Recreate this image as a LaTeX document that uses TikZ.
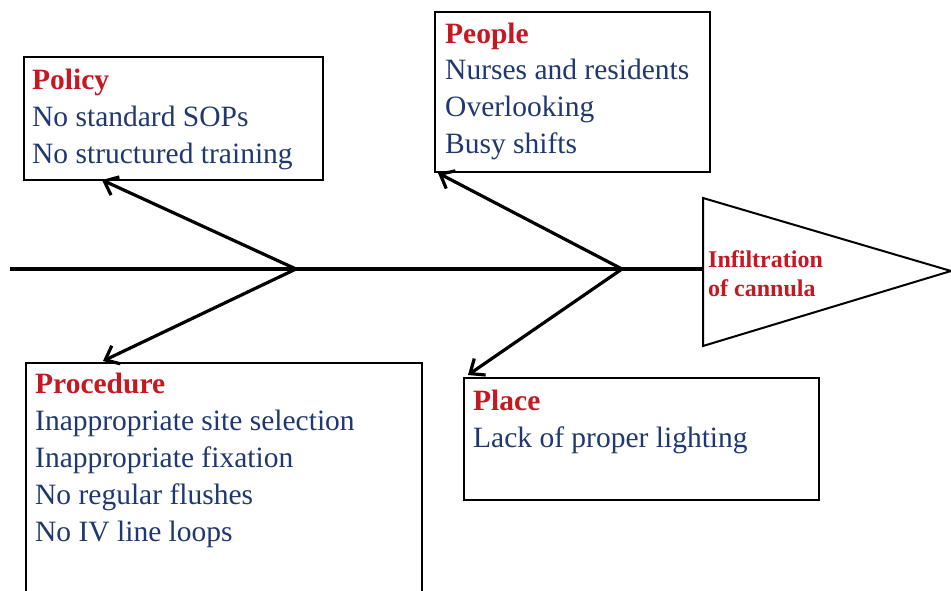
\documentclass[tikz,border=0pt]{standalone}
\usepackage{fontspec}
\setmainfont{Liberation Serif}
\usetikzlibrary{arrows.meta}
\definecolor{hred}{RGB}{196,24,34}
\definecolor{navy}{RGB}{31,56,112}
\tikzset{
  box/.style={draw=black, line width=2.2pt, anchor=north west, inner sep=0pt},
  txt/.style={anchor=base west, inner sep=0pt, align=left, text=navy,
    font=\fontsize{29.5}{37}\selectfont},
  bone/.style={line width=3.2pt, -{Straight Barb[length=12pt,width=20pt,line width=3.2pt]}}
}
\newcommand{\hdr}[1]{\textcolor{hred}{\textbf{#1}}}
\begin{document}
\begin{tikzpicture}[x=1pt,y=-1pt]
\clip (0,0) rectangle (951,591);
\fill[white] (0,0) rectangle (951,591);
% boxes
\node[box, minimum width=299pt, minimum height=123pt] (policy) at (23,56) {};
\node[box, minimum width=275pt, minimum height=160pt] (people) at (434,11) {};
\node[box, minimum width=396pt, minimum height=250pt] (proc) at (25,362) {};
\node[box, minimum width=355pt, minimum height=122pt] (place) at (463,377) {};
% texts (anchor = baseline of last line)
\node[txt] (policyt) at (32,164) {\hdr{Policy}\\No standard SOPs\\No structured training};
\node[txt] (peoplet) at (445,154) {\hdr{People}\\Nurses and residents\\Overlooking\\Busy shifts};
\node[txt] (proct) at (35,541) {\hdr{Procedure}\\Inappropriate site selection\\Inappropriate fixation\\No regular flushes\\No IV line loops};
\node[txt] (placet) at (473,447) {\hdr{Place}\\Lack of proper lighting};
% head triangle
\coordinate (h1) at (703,198);
\coordinate (h2) at (703,346);
\coordinate (h3) at (951,271);
\draw[line width=2pt, line join=miter] (h1) -- (h3) -- (h2) -- cycle;
\node[anchor=base west, inner sep=0pt, align=left, text=hred,
  font=\fontsize{24}{29}\selectfont\bfseries] (effect) at (708,296) {Infiltration\\of cannula};
% spine
\coordinate (tail) at (10,269);
\coordinate (j1) at (296,269);
\coordinate (j2) at (622,269);
\coordinate (hl) at (703,269);
\draw[line width=3.4pt] (tail) -- (hl);
% bones
\coordinate (a1) at (102,180);
\coordinate (a2) at (103,361);
\coordinate (a3) at (438,173);
\coordinate (a4) at (468,375);
\draw[bone] (j1) -- (a1);
\draw[bone] (j1) -- (a2);
\draw[bone] (j2) -- (a3);
\draw[bone] (j2) -- (a4);
\end{tikzpicture}
\end{document}
